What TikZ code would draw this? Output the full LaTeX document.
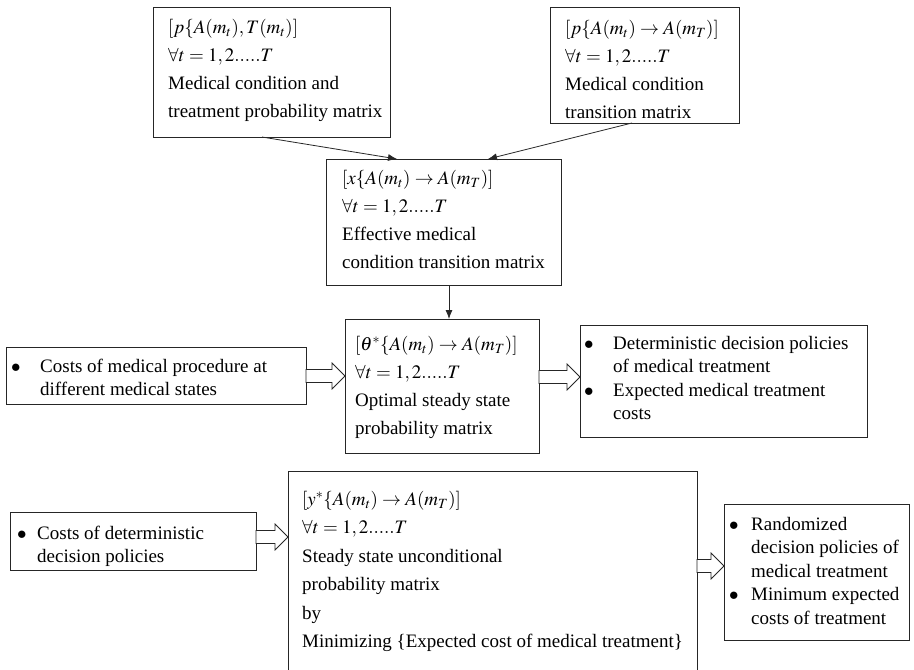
\documentclass[tikz,border=0pt]{standalone}
\usepackage{mathptmx}
\usepackage{fontspec}
\setmainfont{Liberation Serif}
\usetikzlibrary{arrows.meta,calc}
\tikzset{
 box/.style={draw=black!85, line width=0.9pt, rectangle, inner sep=0pt, anchor=north west},
 txt/.style={inner sep=0pt, anchor=north west, align=left, font=\fontsize{19}{28}\selectfont},
 txtH/.style={inner sep=0pt, anchor=north west, align=left, font=\fontsize{19}{28.5}\selectfont},
 btxt/.style={inner sep=0pt, anchor=north west, align=left, font=\fontsize{19}{23.5}\selectfont},
 conn/.style={draw=black!85, line width=0.8pt, -{Latex[length=9pt,width=7pt]}},
 fatstyle/.style={draw=black!85, line width=0.8pt, fill=white, line join=miter},
}
\newcommand\blt{$\bullet$}
\newcommand\fatarrow[2]{%
 \draw[fatstyle] let \p1=(#1), \p2=(#2) in
   (\x1,\y1+6.5pt) -- (\x2-13pt,\y1+6.5pt) -- (\x2-13pt,\y1+13pt) -- (\x2,\y1)
   -- (\x2-13pt,\y1-13pt) -- (\x2-13pt,\y1-6.5pt) -- (\x1,\y1-6.5pt) -- cycle;}
\begin{document}
\begin{tikzpicture}[x=1pt,y=-1pt]
\useasboundingbox (0,0) rectangle (914,670);
\fill[white] (0,0) rectangle (914,670);
\clip (0,0) rectangle (914,670);

% boxes
\node[box, minimum width=237pt, minimum height=130pt] (A) at (153,7) {};
\node[box, minimum width=189pt, minimum height=116pt] (B) at (550,7) {};
\node[box, minimum width=235pt, minimum height=126pt] (C) at (326,159) {};
\node[box, minimum width=194pt, minimum height=134pt] (D) at (345,319) {};
\node[box, minimum width=300pt, minimum height=57pt] (E) at (6,347) {};
\node[box, minimum width=287pt, minimum height=112pt] (F) at (580,325) {};
\node[box, minimum width=246pt, minimum height=58pt] (G) at (10,512) {};
\node[box, minimum width=409pt, minimum height=225pt] (H) at (288,471) {};
\node[box, minimum width=185pt, minimum height=136pt] (I) at (724,504) {};

% texts
\node[txt] (tA) at (168,13.4) {\strut$[p\{A(m_t),T(m_t)]$\\ $\forall t=1,2.....T$\\ Medical condition and\\ treatment probability matrix};
\node[txt] (tB) at (565,14.4) {\strut$[p\{A(m_t)\rightarrow A(m_T)]$\\ $\forall t=1,2.....T$\\ Medical condition\\ transition matrix};
\node[txt] (tC) at (342,164.4) {\strut$[x\{A(m_t)\rightarrow A(m_T)]$\\ $\forall t=1,2.....T$\\ Effective medical\\ condition transition matrix};
\node[txt] (tD) at (355,330.4) {\strut$[\theta^{*}\{A(m_t)\rightarrow A(m_T)]$\\ $\forall t=1,2.....T$\\ Optimal steady state\\ probability matrix};
\node[txtH] (tH) at (302,485) {\strut$[y^{*}\{A(m_t)\rightarrow A(m_T)]$\\ $\forall t=1,2.....T$\\ Steady state unconditional\\ probability matrix\\ by\\ Minimizing \{Expected cost of medical treatment\}};

\node[btxt] (tE) at (11,355.5) {\strut\makebox[29pt][l]{\blt}Costs of medical procedure at\\ \hspace*{29pt}different medical states};
\node[btxt] (tF) at (584,332.5) {\strut\makebox[29pt][l]{\blt}Deterministic decision policies\\ \hspace*{29pt}of medical treatment\\ \makebox[29pt][l]{\blt}Expected medical treatment\\ \hspace*{29pt}costs};
\node[btxt] (tG) at (17,522.6) {\strut\makebox[20pt][l]{\blt}Costs of deterministic\\ \hspace*{20pt}decision policies};
\node[btxt] (tI) at (729,513.5) {\strut\makebox[22pt][l]{\blt}Randomized\\ \hspace*{22pt}decision policies of\\ \hspace*{22pt}medical treatment\\ \makebox[22pt][l]{\blt}Minimum expected\\ \hspace*{22pt}costs of treatment};

% thin connectors
\coordinate (a1) at (262,137); \coordinate (c1) at (397,159);
\coordinate (b1) at (632,123); \coordinate (c2) at (488,159);
\coordinate (c3) at (449,285); \coordinate (d1) at (449,319);
\draw[conn] (a1) -- (c1);
\draw[conn] (b1) -- (c2);
\draw[conn] (c3) -- (d1);

% fat arrows
\coordinate (e1) at (306,376); \coordinate (d2) at (345,376);
\coordinate (d3) at (539,377); \coordinate (f1) at (580,377);
\coordinate (g1) at (256,537); \coordinate (h1) at (288,537);
\coordinate (h2) at (697,566); \coordinate (i1) at (724,566);
\fatarrow{e1}{d2}
\fatarrow{d3}{f1}
\fatarrow{g1}{h1}
\fatarrow{h2}{i1}
\end{tikzpicture}
\end{document}
